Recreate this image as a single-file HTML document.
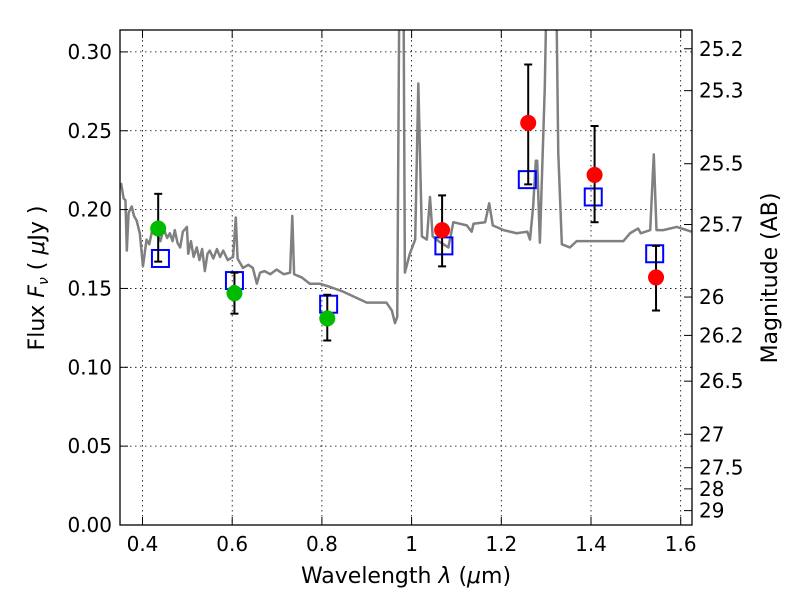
<!DOCTYPE html>
<html><head><meta charset="utf-8"><style>
body{margin:0;background:#fff}
svg text{font-family:"DejaVu Sans","Liberation Sans",sans-serif;fill:#000}
</style></head><body>
<svg id="chart" width="800" height="600" viewBox="0 0 800 600" xmlns="http://www.w3.org/2000/svg">
<defs><clipPath id="clip"><rect x="120" y="30" width="572" height="495"/></clipPath></defs>
<rect x="0" y="0" width="800" height="600" fill="#fff"/>
<g id="grid"></g>
<g id="spec" clip-path="url(#clip)"></g>
<g id="marks"></g>
<rect x="120" y="30" width="572" height="495" fill="none" stroke="#000" stroke-width="1.3"/>
<g id="axes"></g>
<text x="406" y="583" font-size="22" text-anchor="middle">Wavelength  <tspan font-style="italic">λ</tspan> (<tspan font-style="italic">μ</tspan>m)</text>
<text transform="translate(44,278) rotate(-90)" font-size="22" text-anchor="middle">Flux  <tspan font-style="italic">F</tspan><tspan font-style="italic" font-size="14" dy="4">ν</tspan><tspan dy="-4">  (  </tspan><tspan font-style="italic">μ</tspan>Jy )</text>
<text transform="translate(777,278) rotate(-90)" font-size="22" text-anchor="middle">Magnitude (AB)</text>
</svg>
<script>
const xTicks=[0.4,0.6,0.8,1.0,1.2,1.4,1.6];
const xTickLabels=["0.4","0.6","0.8","1","1.2","1.4","1.6"];
const yTicks=[0,0.05,0.10,0.15,0.20,0.25,0.30];
const yTickLabels=["0.00","0.05","0.10","0.15","0.20","0.25","0.30"];
const magTicks=[25.2,25.3,25.5,25.7,26,26.2,26.5,27,27.5,28,29];
const specLam=[0.352,0.358,0.362,0.365,0.369,0.376,0.381,0.387,0.394,0.401,0.409,0.415,0.421,0.432,0.440,0.447,0.455,0.461,0.467,0.472,0.478,0.484,0.490,0.499,0.502,0.508,0.514,0.521,0.527,0.533,0.539,0.545,0.550,0.558,0.566,0.573,0.580,0.590,0.602,0.608,0.612,0.624,0.636,0.646,0.655,0.662,0.672,0.685,0.699,0.715,0.729,0.734,0.738,0.755,0.773,0.795,0.818,0.847,0.870,0.900,0.944,0.956,0.963,0.968,0.974,0.981,0.985,0.996,1.008,1.015,1.023,1.034,1.041,1.047,1.060,1.082,1.093,1.123,1.134,1.138,1.164,1.173,1.181,1.205,1.234,1.258,1.264,1.271,1.277,1.280,1.286,1.297,1.305,1.320,1.327,1.335,1.353,1.368,1.398,1.428,1.472,1.487,1.505,1.511,1.532,1.540,1.546,1.561,1.591,1.613,1.624];
const specFlux=[0.217,0.207,0.206,0.174,0.198,0.202,0.196,0.193,0.185,0.164,0.181,0.178,0.186,0.185,0.180,0.188,0.182,0.185,0.180,0.187,0.179,0.176,0.186,0.189,0.172,0.180,0.170,0.176,0.168,0.175,0.161,0.172,0.174,0.169,0.175,0.170,0.174,0.168,0.170,0.195,0.169,0.163,0.165,0.163,0.153,0.160,0.161,0.159,0.162,0.159,0.160,0.196,0.159,0.157,0.153,0.153,0.151,0.148,0.145,0.141,0.141,0.136,0.128,0.132,0.40,0.40,0.160,0.172,0.181,0.280,0.183,0.181,0.208,0.183,0.180,0.176,0.192,0.190,0.186,0.191,0.192,0.204,0.190,0.187,0.185,0.186,0.181,0.202,0.231,0.231,0.179,0.278,0.40,0.40,0.236,0.178,0.176,0.180,0.180,0.180,0.180,0.185,0.188,0.185,0.187,0.235,0.187,0.187,0.189,0.187,0.186];
const obsLam=[0.435,0.605,0.812,1.068,1.260,1.408,1.545];
const obsFlux=[0.188,0.147,0.131,0.187,0.255,0.222,0.157];
const obsHi=[0.210,0.160,0.146,0.209,0.292,0.253,0.177];
const obsLo=[0.167,0.134,0.117,0.164,0.216,0.192,0.136];
const obsColor=["#00bb00","#00bb00","#00bb00","#ff0000","#ff0000","#ff0000","#ff0000"];
const modLam=[0.440,0.605,0.815,1.072,1.258,1.405,1.542];
const modFlux=[0.169,0.155,0.140,0.177,0.219,0.208,0.172];

const X=v=>142.5+(v-0.4)*448.5;
const Y=v=>525-v*1577;
const NS="http://www.w3.org/2000/svg";
function mk(t,a,p){const e=document.createElementNS(NS,t);for(const k in a)e.setAttribute(k,a[k]);p.appendChild(e);return e;}
const grid=document.getElementById('grid'),axes=document.getElementById('axes'),spec=document.getElementById('spec'),marks=document.getElementById('marks');
xTicks.forEach((v,i)=>{
  const g=mk('line',{x1:X(v),x2:X(v),y1:30,y2:525,stroke:'#000','stroke-dasharray':'1.5,3.5','stroke-width':0.8},grid);
  
  
  mk('line',{x1:X(v),x2:X(v),y1:525,y2:517,stroke:'#000'},axes);
  mk('line',{x1:X(v),x2:X(v),y1:30,y2:38,stroke:'#000'},axes);
  const t=mk('text',{x:X(v),y:551,'font-size':20,'text-anchor':'middle'},axes);t.textContent=xTickLabels[i];
  
  
});
yTicks.forEach((v,i)=>{
  const g=mk('line',{x1:120,x2:692,y1:Y(v),y2:Y(v),stroke:'#000','stroke-dasharray':'1.5,3.5','stroke-width':0.8},grid);
  
  
  mk('line',{x1:120,x2:128,y1:Y(v),y2:Y(v),stroke:'#000'},axes);
  const t=mk('text',{x:112,y:Y(v)+7,'font-size':20,'text-anchor':'end'},axes);t.textContent=yTickLabels[i];
  
  
});
magTicks.forEach(m=>{
  const f=Math.pow(10,(23.9-m)/2.5);const y=Y(f);
  mk('line',{x1:692,x2:684,y1:y,y2:y,stroke:'#000'},axes);
  const t=mk('text',{x:699,y:y+7,'font-size':20},axes);t.textContent=String(m);
  
  
});
const p=mk('polyline',{points:specLam.map((l,i)=>X(l)+','+Y(specFlux[i])).join(' '),fill:'none',stroke:'#808080','stroke-width':2.5,'stroke-linejoin':'round'},spec);


modLam.forEach((l,i)=>{
  const r=mk('rect',{x:X(l)-8.5,y:Y(modFlux[i])-8.5,width:17,height:17,fill:'none',stroke:'#0000ff','stroke-width':2},marks);
  
  
});
obsLam.forEach((l,i)=>{
  const x=X(l);
  const e=mk('g',{},marks);
  
  
  mk('line',{x1:x,x2:x,y1:Y(obsHi[i]),y2:Y(obsLo[i]),stroke:'#000','stroke-width':2},e);
  mk('line',{x1:x-4,x2:x+4,y1:Y(obsHi[i]),y2:Y(obsHi[i]),stroke:'#000','stroke-width':2},e);
  mk('line',{x1:x-4,x2:x+4,y1:Y(obsLo[i]),y2:Y(obsLo[i]),stroke:'#000','stroke-width':2},e);
  const c=mk('circle',{cx:x,cy:Y(obsFlux[i]),r:8,fill:obsColor[i]},marks);
  
  
});
</script>
</body></html>
